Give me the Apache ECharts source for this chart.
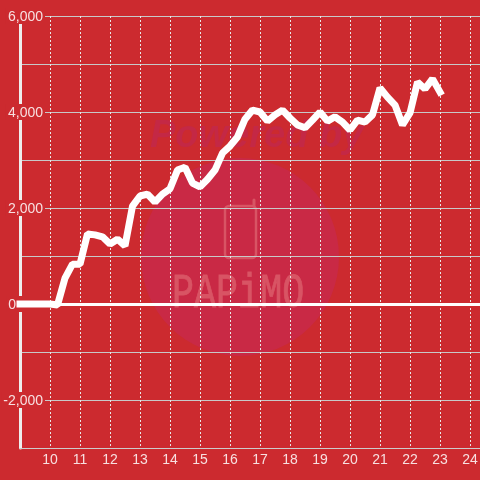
<!DOCTYPE html>
<html>
<head>
<meta charset="UTF-8">
<title>chart</title>
<style>
    html, body { margin: 0; padding: 0; background: #cc2a2f; }
    #main { width: 480px; height: 480px; }
</style>
</head>
<body>
<div id="main"></div>
<script src="https://cdn.jsdelivr.net/npm/echarts@6/dist/echarts.min.js"></script>
<script>
    // hour of day, every 15 minutes
    var hours = [9, 9.25, 9.5, 9.75, 10, 10.25, 10.5, 10.75, 11, 11.25, 11.5, 11.75, 12, 12.25, 12.5, 12.75,
        13, 13.25, 13.5, 13.75, 14, 14.25, 14.5, 14.75, 15, 15.25, 15.5, 15.75, 16, 16.25, 16.5, 16.75,
        17, 17.25, 17.5, 17.75, 18, 18.25, 18.5, 18.75, 19, 19.25, 19.5, 19.75, 20, 20.25, 20.5, 20.75,
        21, 21.25, 21.5, 21.75, 22, 22.25, 22.5, 22.75, 23];
    var balance = [0, 0, 0, 0, 0, -20, 540, 830, 830, 1460, 1440, 1400, 1250, 1350, 1210, 2040,
        2250, 2290, 2125, 2290, 2400, 2790, 2850, 2520, 2440, 2600, 2790, 3145, 3290, 3480, 3850, 4040,
        4000, 3810, 3940, 4040, 3875, 3730, 3670, 3830, 4000, 3810, 3900, 3790, 3625, 3830, 3790, 3940,
        4500, 4310, 4145, 3730, 3980, 4625, 4480, 4690, 4415];
    var xTicks = [10, 11, 12, 13, 14, 15, 16, 17, 18, 19, 20, 21, 22, 23, 24];
    var yTicks = [-2000, 0, 2000, 4000, 6000];

    var points = hours.map(function (h, i) { return [h, balance[i]]; });
    var labelColor = 'rgba(255,255,255,0.85)';
    var wmFill = '#c92945';
    var wmMark = '#d85464';

    var chart = echarts.init(document.getElementById('main'), null, { renderer: 'canvas' });
    chart.setOption({
        animation: false,
        backgroundColor: '#cc2a2f',
        textStyle: { fontFamily: 'Liberation Sans' },
        grid: { left: 20, right: 0, top: 16, bottom: 32, outerBoundsMode: 'none' },
        graphic: [
            { type: 'circle', z: -1, shape: { cx: 240, cy: 257, r: 99 }, style: { fill: wmFill } },
            { type: 'text', z: -1, left: 150, top: 118, style: { text: 'Powered by', fill: '#c42845',
                font: 'italic bold 38px "Liberation Sans"' } },
            { type: 'rect', z: -1, shape: { x: 225, y: 206, width: 31, height: 52, r: 4 },
                style: { fill: 'none', stroke: wmMark, lineWidth: 2.5 } },
            { type: 'line', z: -1, shape: { x1: 254, y1: 206, x2: 254, y2: 200 },
                style: { stroke: wmMark, lineWidth: 3, lineCap: 'round' } },
            { type: 'text', z: -1, x: 172, y: 270, scaleX: 1.02, scaleY: 1.35, style: { text: 'PAPiMO', fill: wmMark,
                stroke: wmMark, lineWidth: 0.6, font: '36px "Liberation Mono"' } }
        ],
        xAxis: {
            type: 'value',
            min: 9,
            max: 24.3334,
            interval: 1,
            axisLine: { onZero: false, lineStyle: { color: '#cccccc', width: 1 } },
            axisTick: { show: false },
            axisLabel: {
                customValues: xTicks,
                color: labelColor,
                fontSize: 14,
                margin: 5
            },
            splitLine: { show: true, lineStyle: { color: '#e8e8e8', width: 1, type: [2, 2] } }
        },
        yAxis: {
            type: 'value',
            min: -3000,
            max: 6000,
            interval: 1000,
            axisLine: { show: true, lineStyle: { color: '#eeeeee', width: 3 } },
            axisTick: { show: false },
            axisLabel: {
                customValues: yTicks,
                color: labelColor,
                fontSize: 14,
                margin: -25,
                backgroundColor: '#cc2a2f',
                padding: [2, 2, 0, 2],
                formatter: function (v) {
                    if (v === 0) return '{zero|0}';
                    return String(v).replace(/\B(?=(\d{3})+$)/g, ',');
                },
                rich: { zero: { color: labelColor, fontSize: 14, padding: [0, 27, 0, 0] } }
            },
            splitLine: { show: true, lineStyle: { color: '#c8c8c8', width: 1 } }
        },
        series: [{
            type: 'line',
            data: points,
            symbol: 'none',
            clip: false,
            lineStyle: { color: '#ffffff', width: 7, cap: 'square', join: 'bevel' },
            markLine: {
                silent: true,
                symbol: 'none',
                label: { show: false },
                lineStyle: { color: '#ffffff', width: 3, type: 'solid' },
                data: [{ yAxis: 0 }]
            }
        }]
    });
</script>
</body>
</html>
